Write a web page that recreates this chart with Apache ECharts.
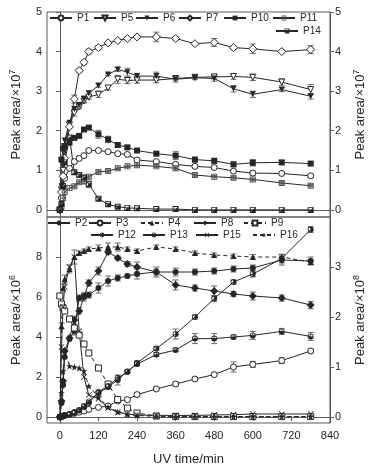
<!DOCTYPE html>
<html lang="en">
<head>
    <meta charset="UTF-8">
    <title>Peak area vs UV time</title>
    <script src="https://cdn.jsdelivr.net/npm/echarts@6.0.0/dist/echarts.min.js"></script>
    <style type="text/css">
        body{ margin:0; background:#fff; }
    </style>
</head>
<body>
<div id="main" style="width: 375px;height:467px;"></div>
<script type="text/javascript">
    // sampling times (min)
    var times = [0, 5, 10, 15, 30, 45, 60, 75, 90, 120, 150, 180, 210, 240, 300, 360, 420, 480, 540, 600, 690, 780];

    // upper panel, x10^7
    var p1  = [0, 0.3, 0.6, 0.8, 1.05, 1.22, 1.3, 1.37, 1.5, 1.5, 1.47, 1.42, 1.4, 1.26, 1.22, 1.15, 1.1, 1.07, 0.98, 0.93, 0.92, 0.86];
    var p5  = [0, 0.5, 1.0, 1.6, 2.15, 2.45, 2.6, 2.75, 2.85, 2.92, 3.08, 3.3, 3.27, 3.28, 3.28, 3.32, 3.35, 3.36, 3.37, 3.35, 3.23, 3.04];
    var p6  = [0, 0.6, 1.25, 1.75, 2.2, 2.55, 2.65, 2.8, 2.95, 3.14, 3.42, 3.55, 3.48, 3.38, 3.38, 3.3, 3.34, 3.32, 3.06, 2.92, 3.04, 2.87];
    var p7  = [0, 0.45, 0.85, 1.3, 2.1, 2.8, 3.52, 3.73, 4.0, 4.1, 4.22, 4.28, 4.33, 4.37, 4.37, 4.33, 4.2, 4.23, 4.1, 4.07, 4.0, 4.05];
    var p10 = [0, 1.27, 1.55, 1.6, 1.7, 1.82, 1.87, 2.03, 2.08, 1.91, 1.78, 1.64, 1.58, 1.5, 1.42, 1.37, 1.27, 1.24, 1.15, 1.19, 1.2, 1.17];
    var p11 = [0, 0.1, 0.3, 0.45, 0.55, 0.6, 0.7, 0.72, 0.84, 0.96, 0.98, 1.05, 1.1, 1.13, 1.1, 1.05, 0.88, 0.84, 0.81, 0.77, 0.68, 0.61];
    var p14 = [0, 0.15, 0.6, 1.2, 1.83, 0.95, 0.88, 0.82, 0.65, 0.28, 0.14, 0.08, 0.05, 0.04, 0.02, 0.02, 0, 0, 0, 0, 0, 0];

    // upper panel error bars (same units)
    var e1  = [0, 0, 0, 0, 0, 0.05, 0.05, 0.03, 0.03, 0.03, 0.03, 0.03, 0.03, 0.04, 0.03, 0.04, 0.03, 0.04, 0.03, 0.05, 0.03, 0.03];
    var e5  = [0, 0, 0, 0, 0, 0.08, 0.05, 0.05, 0.05, 0.08, 0.05, 0.1, 0.08, 0.08, 0.07, 0.04, 0.04, 0.05, 0.07, 0.08, 0.08, 0.13];
    var e6  = [0, 0, 0, 0, 0, 0.06, 0.05, 0.08, 0.05, 0.04, 0.03, 0.05, 0.1, 0.07, 0.1, 0.07, 0.05, 0.07, 0.08, 0.08, 0.05, 0.07];
    var e7  = [0, 0, 0, 0, 0, 0.1, 0.05, 0.05, 0.06, 0.05, 0.03, 0.03, 0.03, 0.03, 0.12, 0.04, 0.03, 0.1, 0.04, 0.12, 0.03, 0.1];
    var e10 = [0, 0.05, 0, 0, 0, 0.05, 0.05, 0.05, 0.03, 0.1, 0.08, 0.05, 0.04, 0.03, 0.04, 0.1, 0.06, 0.06, 0.06, 0.08, 0.05, 0.04];
    var e11 = [0, 0, 0, 0, 0, 0.03, 0.03, 0.05, 0.04, 0.03, 0.03, 0.03, 0.03, 0.03, 0.03, 0.04, 0.03, 0.03, 0.03, 0.03, 0.03, 0.03];
    var e14 = [0, 0, 0, 0, 0, 0.05, 0.05, 0.05, 0.08, 0.03, 0.02, 0.02, 0, 0, 0, 0, 0, 0, 0, 0, 0, 0];

    // lower panel, x10^6 (left scale)
    var p2  = [0, 0.7, 1.6, 3.0, 3.9, 4.3, 5.95, 6.05, 6.1, 6.45, 6.8, 6.95, 7.05, 7.15, 7.25, 7.25, 7.25, 7.3, 7.4, 7.45, 7.85, 7.8];
    var p3  = [0, 0.02, 0.05, 0.08, 0.12, 0.18, 0.24, 0.3, 0.38, 0.48, 0.55, 0.8, 0.87, 1.12, 1.4, 1.65, 1.9, 2.12, 2.5, 2.63, 2.82, 3.3];
    var p4  = [0, 4.55, 6.45, 6.9, 7.4, 8.0, 8.2, 8.3, 8.4, 8.45, 8.5, 8.5, 8.4, 8.3, 8.5, 8.4, 8.2, 8.1, 8.05, 8.0, 8.0, 7.75];
    var p8  = [0, 0.8, 1.8, 3.3, 3.95, 4.85, 5.3, 6.0, 6.7, 7.3, 8.25, 7.95, 7.65, 7.5, 7.25, 6.6, 6.45, 6.3, 6.15, 6.05, 5.95, 5.6];
    var p9  = [6.05, 5.65, 5.45, 5.3, 4.9, 4.45, 4.1, 3.65, 3.2, 2.45, 1.65, 0.88, 0.45, 0.2, 0.05, 0.03, 0.02, 0.02, 0.02, 0.02, 0.02, 0.02];
    var p12 = [0, 0.02, 0.05, 0.08, 0.15, 0.25, 0.35, 0.5, 0.7, 1.25, 1.55, 1.95, 2.25, 2.7, 3.42, 4.15, 5.0, 5.92, 6.75, 7.15, 7.92, 9.37];
    var p13 = [0, 0.02, 0.04, 0.07, 0.12, 0.2, 0.32, 0.55, 0.78, 1.2, 1.5, 1.85, 2.28, 2.65, 3.12, 3.35, 3.92, 3.92, 4.0, 4.08, 4.28, 4.03];
    var p15 = [0, 3.5, 5.5, 6.5, 7.5, 8.0, 4.3, 2.0, 1.1, 0.9, 0.45, 0.25, 0.15, 0.1, 0.08, 0.08, 0.08, 0.1, 0.12, 0.15, 0.15, 0.15];
    var p16 = [0, 1.2, 2.3, 3.3, 2.55, 2.5, 2.45, 2.3, 1.55, 1.0, 0.5, 0.25, 0.12, 0.08, 0.03, 0.02, 0.02, 0.02, 0.02, 0.02, 0.02, 0.02];

    // lower panel error bars
    var e2  = [0, 0, 0, 0, 0, 0.2, 0.15, 0.15, 0.15, 0.25, 0.25, 0.15, 0.1, 0.25, 0.25, 0.2, 0.15, 0.15, 0.15, 0.15, 0.25, 0.2];
    var e3  = [0, 0, 0, 0, 0, 0, 0, 0, 0, 0, 0, 0, 0.1, 0.1, 0.08, 0.1, 0.08, 0.08, 0.25, 0.15, 0.15, 0.1];
    var e4  = [0, 0.15, 0.2, 0.2, 0.2, 0.35, 0.1, 0.1, 0.1, 0.15, 0.2, 0.2, 0.1, 0.1, 0.1, 0.1, 0.1, 0.1, 0.1, 0.12, 0.12, 0.12];
    var e8  = [0, 0, 0, 0, 0, 0.2, 0.15, 0.2, 0.15, 0.2, 0.1, 0.1, 0.12, 0.25, 0.15, 0.25, 0.15, 0.25, 0.12, 0.2, 0.15, 0.18];
    var e9  = [0.1, 0.1, 0.1, 0, 0, 0, 0, 0, 0, 0, 0, 0, 0, 0, 0, 0, 0, 0, 0, 0, 0, 0];
    var e12 = [0, 0, 0, 0, 0, 0, 0, 0, 0, 0, 0, 0, 0, 0.1, 0.08, 0.25, 0.1, 0.15, 0.1, 0.15, 0.22, 0.15];
    var e13 = [0, 0, 0, 0, 0, 0, 0, 0, 0, 0.1, 0.1, 0.25, 0.1, 0.1, 0.1, 0.08, 0.25, 0.25, 0.1, 0.2, 0.15, 0.2];

    var xTicks = [0, 120, 240, 360, 480, 600, 720, 840];

    var ink = '#262626';
    var axisGrey = '#5a5a5a';

    var sym = {
        downTri: 'path://M0,0L10,0L5,9Z',
        grid: 'path://M0,0H10V10H0Z M1.6,1.6V4.3H4.3V1.6Z M5.7,1.6V4.3H8.4V1.6Z M1.6,5.7V8.4H4.3V5.7Z M5.7,5.7V8.4H8.4V5.7Z',
        halfSq: 'path://M0,0H10V10H0Z M1.6,1.6V8.4H8.4V1.6Z M1.6,8.4L8.4,1.6L8.4,8.4Z',
        halfR: 'path://M5,0A5,5 0 1 1 5,10A5,5 0 1 1 5,0Z M5,1.4A3.6,3.6 0 1 0 5,8.6A3.6,3.6 0 1 0 5,1.4Z M5,1.4A3.6,3.6 0 0 1 5,8.6Z',
        halfB: 'path://M5,0A5,5 0 1 1 5,10A5,5 0 1 1 5,0Z M5,1.4A3.6,3.6 0 1 0 5,8.6A3.6,3.6 0 1 0 5,1.4Z M1.4,5A3.6,3.6 0 0 0 8.6,5Z',
        cross: 'path://M0,1L1,0L5,4L9,0L10,1L6,5L10,9L9,10L5,6L1,10L0,9L4,5Z',
        star: 'path://M5,0L6.2,3.6L10,3.6L6.9,5.9L8.1,9.5L5,7.3L1.9,9.5L3.1,5.9L0,3.6L3.8,3.6Z'
    };

    function pairs(arr) {
        var out = [];
        for (var i = 0; i < arr.length; i++) {
            out.push([times[i], arr[i]]);
        }
        return out;
    }

    function mk(name, arr, idx, symbol, fill, dashed, size) {
        return {
            name: name,
            type: 'line',
            xAxisIndex: idx,
            yAxisIndex: idx === 0 ? 0 : 2,
            data: pairs(arr),
            symbol: symbol,
            symbolSize: size || 6,
            showAllSymbol: true,
            z: 3,
            lineStyle: { color: ink, width: 1, type: dashed ? [4, 3] : 'solid' },
            itemStyle: { color: fill, borderColor: ink, borderWidth: fill === '#fff' ? 1 : 0 },
            emphasis: { disabled: true },
            animation: false
        };
    }

    // error bars drawn through the axes with a custom series
    function errBars(idx, list) {
        var data = [];
        list.forEach(function (pair) {
            var v = pair[0], e = pair[1];
            for (var i = 0; i < v.length; i++) {
                if (e[i] > 0) data.push([times[i], v[i], e[i]]);
            }
        });
        return {
            type: 'custom',
            xAxisIndex: idx,
            yAxisIndex: idx === 0 ? 0 : 2,
            z: 2,
            silent: true,
            data: data,
            renderItem: function (params, api) {
                var x = api.value(0), y = api.value(1), e = api.value(2);
                var hi = api.coord([x, y + e]);
                var lo = api.coord([x, y - e]);
                var st = { stroke: '#6a6a6a', lineWidth: 1 };
                return {
                    type: 'group',
                    children: [
                        { type: 'line', shape: { x1: hi[0], y1: hi[1], x2: lo[0], y2: lo[1] }, style: st },
                        { type: 'line', shape: { x1: hi[0] - 3, y1: hi[1], x2: hi[0] + 3, y2: hi[1] }, style: st },
                        { type: 'line', shape: { x1: lo[0] - 3, y1: lo[1], x2: lo[0] + 3, y2: lo[1] }, style: st }
                    ]
                };
            }
        };
    }

    var sup = { sup: { fontSize: 9, padding: [0, 0, 8, 0] } };

    function yAx(gridIdx, pos, min, max, ticks, title, gap) {
        return {
            type: 'value', gridIndex: gridIdx, position: pos,
            min: min, max: max,
            name: title, nameLocation: 'middle', nameRotate: 90, nameGap: gap,
            nameTextStyle: { fontSize: 13, color: ink, fontFamily: 'Liberation Sans', rich: sup },
            axisLine: { show: true, lineStyle: { color: axisGrey } },
            axisTick: { show: true, length: 4, customValues: ticks, lineStyle: { color: axisGrey } },
            axisLabel: { fontSize: 11, color: ink, margin: 5, fontFamily: 'Liberation Sans', customValues: ticks },
            splitLine: { show: false }
        };
    }

    // one legend per entry so each sits where the original puts it
    function lg(name, left, cy) {
        return {
            data: [name], left: left, top: cy - 6, padding: 0,
            itemWidth: 22, itemHeight: 6, selectedMode: false,
            textStyle: { fontSize: 10, color: ink, fontFamily: 'Liberation Sans' }
        };
    }

    var myChart = echarts.init(document.getElementById('main'));
    var option = {
        backgroundColor: '#fff',
        animation: false,
        grid: [
            { left: 45, right: 44, top: 12, height: 205, show: true, borderColor: axisGrey, borderWidth: 1 },
            { left: 45, right: 44, top: 217, height: 206, show: true, borderColor: axisGrey, borderWidth: 1 }
        ],
        legend: [
            lg('P1', 49, 19), lg('P5', 93, 19), lg('P6', 135, 19), lg('P7', 178, 19),
            lg('P10', 223, 19), lg('P11', 272, 19), lg('P14', 275, 32),
            lg('P2', 47, 224), lg('P3', 88, 224), lg('P4', 140, 224), lg('P8', 193, 224), lg('P9', 243, 224),
            lg('P12', 90, 236), lg('P13', 142, 236), lg('P15', 195, 236), lg('P16', 252, 236)
        ],
        xAxis: [
            {
                type: 'value', gridIndex: 0, min: -40, max: 840,
                axisLine: { show: true, lineStyle: { color: axisGrey } },
                axisTick: { show: false }, axisLabel: { show: false }, splitLine: { show: false }
            },
            {
                type: 'value', gridIndex: 1, min: -40, max: 840,
                name: 'UV time/min', nameLocation: 'middle', nameGap: 30,
                nameTextStyle: { fontSize: 13, color: ink, fontFamily: 'Liberation Sans' },
                axisLine: { show: true, lineStyle: { color: axisGrey } },
                axisTick: { show: true, length: 4, customValues: xTicks, lineStyle: { color: axisGrey } },
                axisLabel: { fontSize: 11, color: ink, margin: 7, fontFamily: 'Liberation Sans', customValues: xTicks },
                splitLine: { show: false }
            }
        ],
        yAxis: [
            yAx(0, 'left', -0.18, 5, [0, 1, 2, 3, 4, 5], 'Peak area/×10{sup|7}', 22),
            yAx(0, 'right', -0.18, 5, [0, 1, 2, 3, 4, 5], 'Peak area/×10{sup|7}', 22),
            yAx(1, 'left', -0.3, 10, [0, 2, 4, 6, 8], 'Peak area/×10{sup|6}', 22),
            yAx(1, 'right', -0.12, 4, [0, 1, 2, 3], 'Peak area/×10{sup|8}', 22)
        ],
        series: [
            errBars(0, [[p1, e1], [p5, e5], [p6, e6], [p7, e7], [p10, e10], [p11, e11], [p14, e14]]),
            errBars(1, [[p2, e2], [p3, e3], [p4, e4], [p8, e8], [p9, e9], [p12, e12], [p13, e13]]),
            mk('P1', p1, 0, 'circle', '#fff'),
            mk('P5', p5, 0, sym.downTri, '#fff'),
            mk('P6', p6, 0, sym.downTri, ink),
            mk('P7', p7, 0, 'diamond', '#fff', false, 8),
            mk('P10', p10, 0, 'rect', ink),
            mk('P11', p11, 0, sym.grid, '#555'),
            mk('P14', p14, 0, sym.halfSq, ink),
            mk('P2', p2, 1, 'circle', ink),
            mk('P3', p3, 1, 'circle', '#fff'),
            mk('P4', p4, 1, 'triangle', ink, true),
            mk('P8', p8, 1, 'diamond', ink, false, 8),
            mk('P9', p9, 1, 'rect', '#fff', true),
            mk('P12', p12, 1, sym.halfR, ink),
            mk('P13', p13, 1, sym.halfB, ink),
            mk('P15', p15, 1, sym.cross, ink),
            mk('P16', p16, 1, sym.star, ink, true, 7)
        ]
    };
    myChart.setOption(option);
</script>
</body>
</html>
